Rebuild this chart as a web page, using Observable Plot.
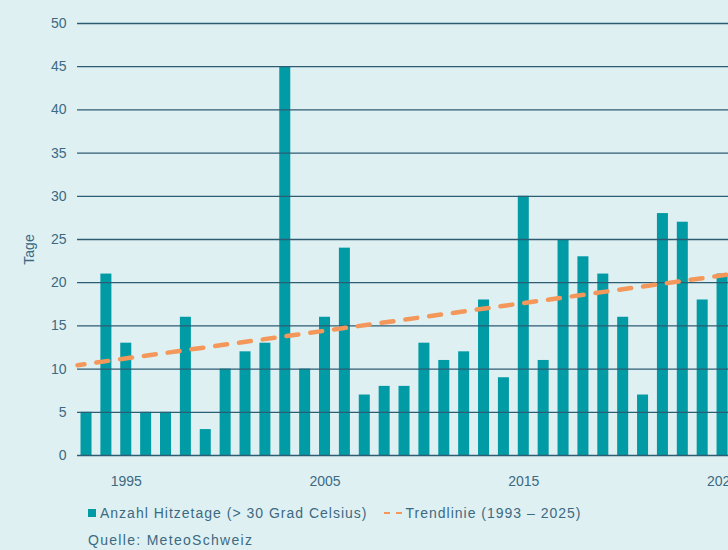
<!DOCTYPE html>
<html><head><meta charset="utf-8">
<script src="https://cdn.jsdelivr.net/npm/d3@7"></script>
<script src="https://cdn.jsdelivr.net/npm/@observablehq/plot@0.6"></script>
<style>
html,body{margin:0;padding:0;background:#dff0f3;overflow:hidden;width:728px;height:550px}
#wrap{position:relative;width:728px;height:550px;overflow:hidden;font-family:"Liberation Sans",Arial,sans-serif;color:#3b6a82}
#chart{position:absolute;left:0;top:0;width:740px}
#chart svg{max-width:none !important}
.legend{position:absolute;left:88px;top:504px;font-size:14px;line-height:18px;display:flex;align-items:center;white-space:nowrap;letter-spacing:1px}
.sq{display:inline-block;width:8px;height:8px;background:#009ba5;margin-right:4px}
.caption{position:absolute;left:88px;top:531px;font-size:14px;line-height:18px;white-space:nowrap;letter-spacing:1.3px}
</style>
</head><body>
<div id="wrap">
  <div id="chart"></div>
  <div class="legend">
    <span class="sq"></span><span>Anzahl Hitzetage (&gt; 30 Grad Celsius)</span>
    <svg width="19" height="4" style="margin-left:16px;margin-right:3px"><line x1="0" y1="2" x2="19" y2="2" stroke="#f4975a" stroke-width="2" stroke-dasharray="6,6"/></svg>
    <span>Trendlinie (1993 – 2025)</span>
  </div>
  <div class="caption">Quelle: MeteoSchweiz</div>
</div>
<script>
const years = [1993,1994,1995,1996,1997,1998,1999,2000,2001,2002,2003,2004,2005,2006,2007,2008,2009,2010,2011,2012,2013,2014,2015,2016,2017,2018,2019,2020,2021,2022,2023,2024,2025];
const hitzetage = [5,21,13,5,5,16,3,10,12,13,45,10,16,24,7,8,8,13,11,12,18,9,30,11,25,23,21,16,7,28,27,18,21];
const trendYears = [1993, 2025];
const trendValues = [10.6, 20.85];
const yTicks = [0,5,10,15,20,25,30,35,40,45,50];
const xTicks = [1995, 2005, 2015, 2025];

const data = years.map((y, i) => ({year: y, value: hitzetage[i]}));
const xStart = 1992.547, xEnd = 2025.47;
const slope = (trendValues[1] - trendValues[0]) / (trendYears[1] - trendYears[0]);
const trend = [xStart, xEnd].map(x => ({year: x, value: trendValues[0] + slope * (x - trendYears[0])}));

const textColor = "#3b6a82";
const W = 740;
const chart = Plot.plot({
  width: W,
  height: 495,
  marginLeft: 77,
  marginRight: W - 731.4,
  marginTop: 23,
  marginBottom: 40,
  style: {background: "transparent", fontFamily: '"Liberation Sans", Arial, sans-serif', fontSize: "14px", color: textColor, overflow: "visible", maxWidth: "none"},
  x: {domain: [xStart, xEnd]},
  y: {domain: [0, 50]},
  marks: [
    Plot.rectY(data, {x1: d => d.year - 0.277, x2: d => d.year + 0.277, y: "value", fill: "#009ba5"}),
    Plot.ruleY(yTicks, {stroke: "#2c5d73", strokeWidth: 1.3}),
    Plot.line(trend, {x: "year", y: "value", stroke: "#f4975a", strokeWidth: 4.5, strokeDasharray: "12,12", strokeDashoffset: 5}),
    Plot.axisX({ticks: xTicks, tickSize: 0, tickPadding: 21, tickFormat: d => String(d), label: null, fill: textColor}),
    Plot.axisY({ticks: yTicks, tickSize: 0, tickPadding: 11, label: null, fill: textColor}),
    Plot.text(["Tage"], {frameAnchor: "left", textAnchor: "middle", rotate: -90, dx: -48, dy: 10, fontSize: 14, fill: textColor})
  ]
});
document.getElementById("chart").appendChild(chart);
</script>
</body></html>
